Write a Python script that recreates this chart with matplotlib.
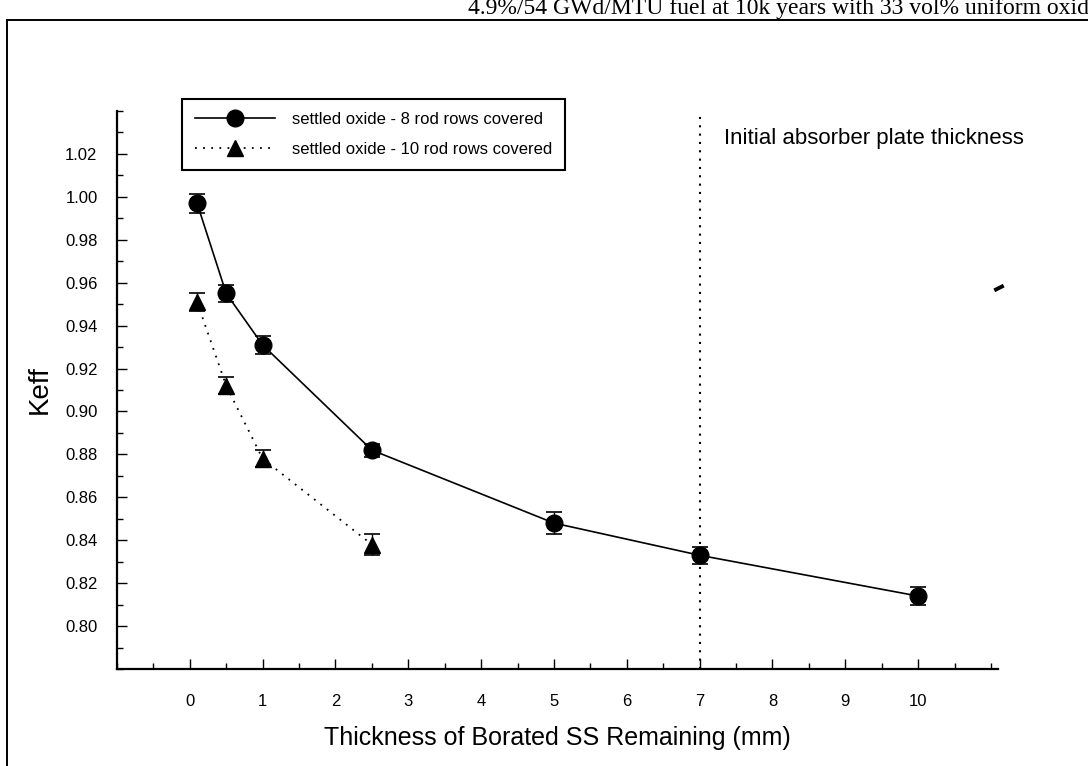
import matplotlib
matplotlib.use('Agg')
import matplotlib.pyplot as plt
import matplotlib.ticker as ticker
from matplotlib.lines import Line2D

# keff vs remaining borated SS thickness, two settled-oxide cases
thick_8 = [0.1, 0.5, 1.0, 2.5, 5.0, 7.0, 10.0]
keff_8 = [0.997, 0.955, 0.931, 0.882, 0.848, 0.833, 0.814]
err_8 = [0.0045, 0.004, 0.004, 0.003, 0.005, 0.004, 0.004]

thick_10 = [0.1, 0.5, 1.0, 2.5]
keff_10 = [0.951, 0.912, 0.878, 0.838]
err_10 = [0.004, 0.004, 0.004, 0.005]

label_8 = 'settled oxide - 8 rod rows covered'
label_10 = 'settled oxide - 10 rod rows covered'

initial_plate = 7.0
x_ticks = list(range(0, 11))
y_ticks = [0.80, 0.82, 0.84, 0.86, 0.88, 0.90, 0.92, 0.94, 0.96, 0.98, 1.00, 1.02]

page_title = '4.9%/54 GWd/MTU fuel at 10k years with 33 vol% uniform oxide'

plt.rcParams['font.family'] = ['Liberation Sans', 'DejaVu Sans']

fig = plt.figure(figsize=(10.88, 7.66), dpi=100)
ax = fig.add_axes([0.1075, 0.1266, 0.810, 0.7285])

# 8 rows: solid line, filled circles
ax.plot(thick_8, keff_8, color='black', linestyle='-', linewidth=1.2,
        marker='o', markersize=12, label=label_8)
ax.errorbar(thick_8, keff_8, yerr=err_8, fmt='none', ecolor='black',
            elinewidth=1.0, capsize=6, capthick=1.2)

# 10 rows: dotted line, filled triangles
ax.plot(thick_10, keff_10, color='black', linestyle=(0, (1, 3.5)), linewidth=1.3,
        marker='^', markersize=12, label=label_10)
ax.errorbar(thick_10, keff_10, yerr=err_10, fmt='none', ecolor='black',
            elinewidth=1.0, capsize=6, capthick=1.2)

ax.axvline(initial_plate, color='black', linestyle=(0, (1, 3)), linewidth=1.5)
ax.text(7.34, 1.027, 'Initial absorber plate thickness', fontsize=16,
        ha='left', va='center')

ax.set_xlim(-1, 11.1)
ax.set_ylim(0.78, 1.04)
ax.set_xticks(x_ticks)
ax.xaxis.set_minor_locator(ticker.MultipleLocator(0.5))
ax.set_yticks(y_ticks)
ax.yaxis.set_major_formatter(ticker.FormatStrFormatter('%.2f'))
ax.yaxis.set_minor_locator(ticker.MultipleLocator(0.01))

ax.tick_params(which='both', direction='in', width=1.0)
ax.tick_params(which='major', length=7)
ax.tick_params(which='minor', length=4)
ax.tick_params(axis='y', which='major', pad=14, labelsize=12)
ax.tick_params(axis='x', which='major', pad=18, labelsize=12)

ax.spines['top'].set_visible(False)
ax.spines['right'].set_visible(False)
ax.spines['left'].set_linewidth(1.6)
ax.spines['bottom'].set_linewidth(1.6)

ax.set_xlabel('Thickness of Borated SS Remaining (mm)', fontsize=18, labelpad=12)
ax.set_ylabel('Keff', fontsize=20, labelpad=9)

leg = ax.legend(loc='upper left', bbox_to_anchor=(0.167, 0.871),
                bbox_transform=fig.transFigure, borderaxespad=0, fontsize=12,
                handlelength=4.8, handletextpad=1.0, labelspacing=0.9,
                borderpad=0.8, fancybox=False, framealpha=1, edgecolor='black')
leg.get_frame().set_linewidth(1.5)

# page frame and running header
frame_y = 1 - 20 / 766
fig.add_artist(Line2D([7 / 1088, 1.0], [frame_y, frame_y], transform=fig.transFigure,
                      color='black', linewidth=1.4))
fig.add_artist(Line2D([7 / 1088, 7 / 1088], [0.0, frame_y], transform=fig.transFigure,
                      color='black', linewidth=1.4))
fig.text(468 / 1088, 1 - 14 / 766, page_title, fontsize=17, va='baseline', ha='left',
         family=['Liberation Serif', 'DejaVu Serif'])
fig.add_artist(Line2D([996 / 1088, 1002 / 1088], [1 - 289.5 / 766, 1 - 286.5 / 766],
                      transform=fig.transFigure, color='black', linewidth=2.8))

fig.savefig('out.png', dpi=100)
